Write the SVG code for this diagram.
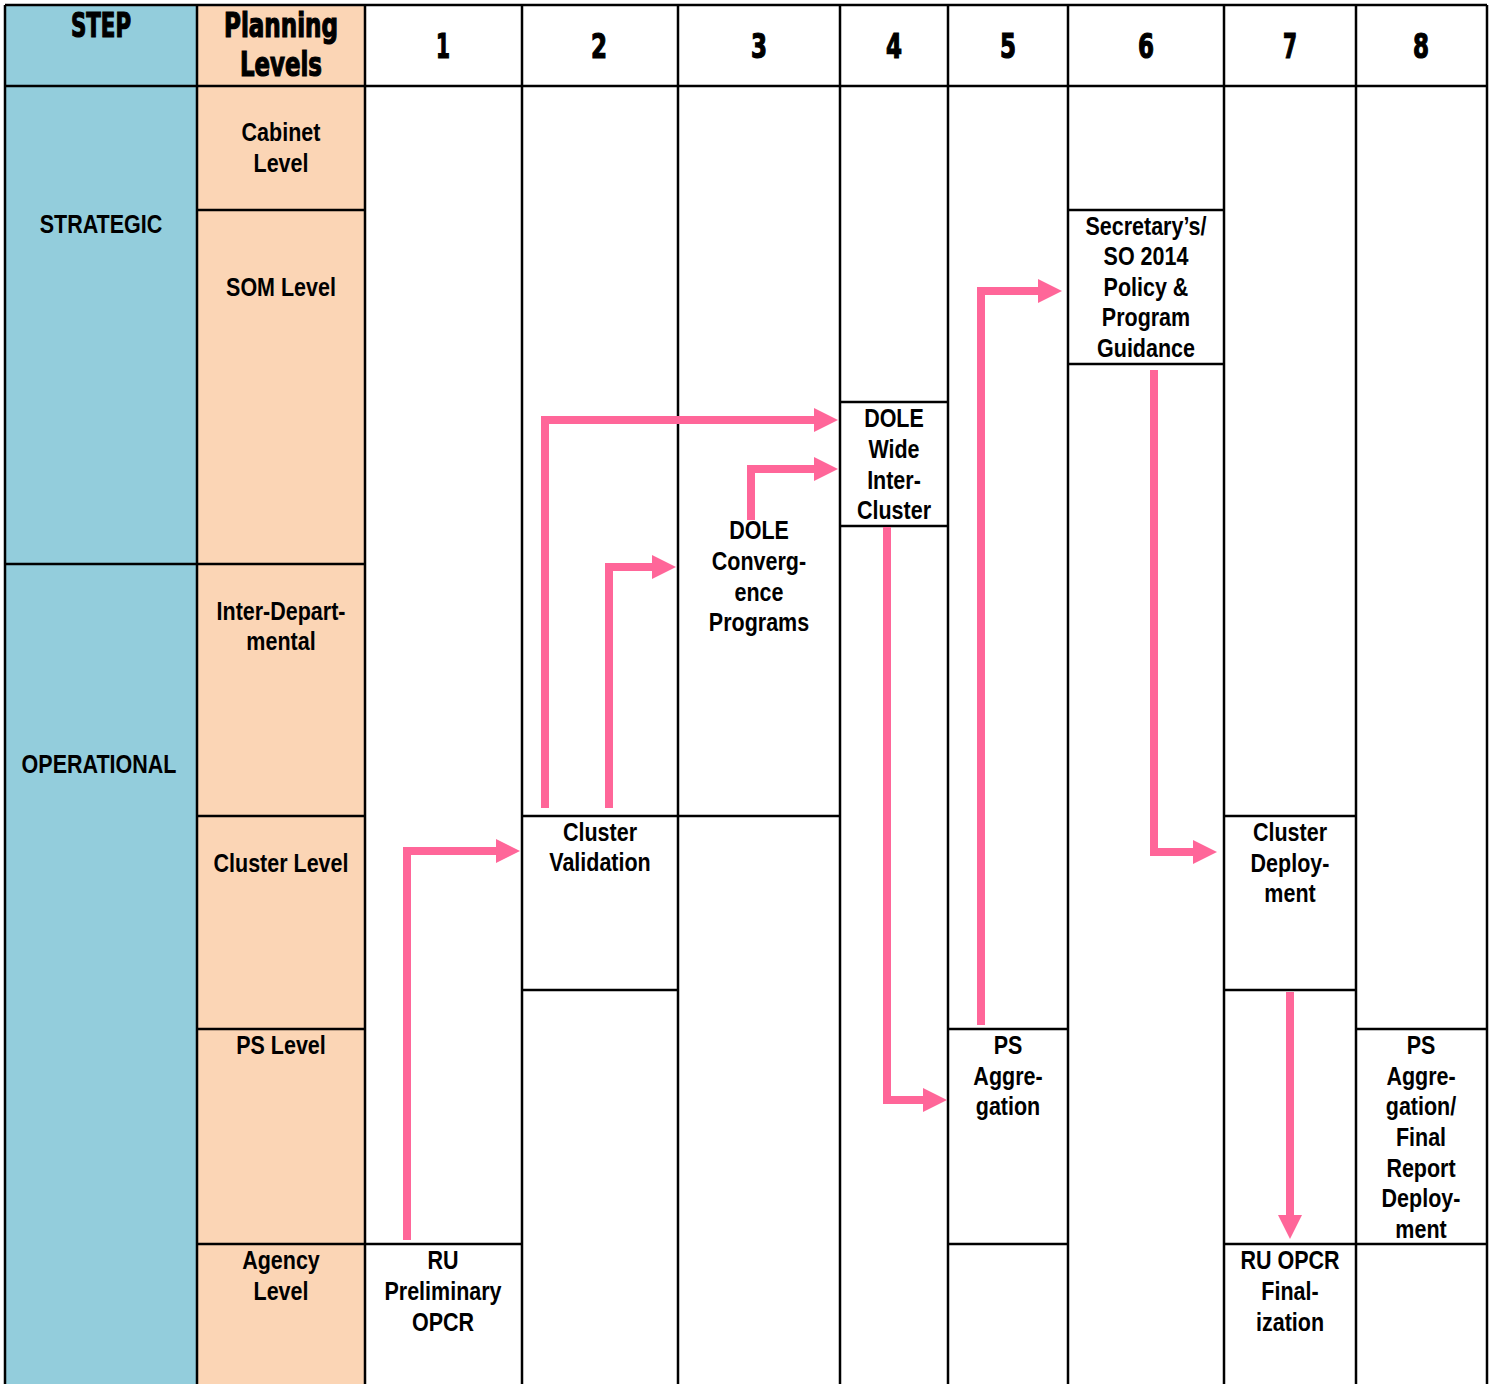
<svg xmlns="http://www.w3.org/2000/svg" width="1493" height="1384" viewBox="0 0 1493 1384">
<style>
.g{stroke:#000;stroke-width:2.5;fill:none}
.h{font-family:"DejaVu Sans Condensed","Liberation Sans",sans-serif;font-weight:bold;font-size:34px;text-anchor:middle;fill:#000;stroke:#000;stroke-width:1.2}
.t{font-family:"Liberation Sans",Arial,sans-serif;font-weight:bold;font-size:25px;text-anchor:middle;fill:#000}
.a{stroke:#FF6699;stroke-width:8;fill:none;marker-end:url(#ah)}
</style>
<defs>
<marker id="ah" markerUnits="userSpaceOnUse" viewBox="0 0 24 24" markerWidth="24" markerHeight="24" refX="1" refY="12" orient="auto">
<path d="M0,0 L24,12 L0,24 z" fill="#FF6699"/>
</marker>
</defs>
<rect x="0" y="0" width="1493" height="1384" fill="#fff"/>
<g id="backgrounds">
<rect x="5" y="5" width="192" height="1379" fill="#93CDDC"/>
<rect x="197" y="5" width="168" height="1379" fill="#FBD5B5"/>
</g>
<g id="grid">
<path class="g" d="M5,5 H1487 M5,86 H1487"/>
<path class="g" d="M5,5 V1384 M197,5 V1384 M365,5 V1384 M522,5 V1384 M678,5 V1384 M840,5 V1384 M948,5 V1384 M1068,5 V1384 M1224,5 V1384 M1356,5 V1384 M1487,5 V1384"/>
<path class="g" d="M5,564 H197"/>
<path class="g" d="M197,210 H365 M197,564 H365 M197,816 H365 M197,1029 H365 M197,1244 H365"/>
<path class="g" d="M365,1244 H522"/>
<path class="g" d="M522,816 H678 M522,990 H678"/>
<path class="g" d="M678,816 H840"/>
<path class="g" d="M840,402 H948 M840,526 H948"/>
<path class="g" d="M948,1029 H1068 M948,1244 H1068"/>
<path class="g" d="M1068,210 H1224 M1068,364 H1224"/>
<path class="g" d="M1224,816 H1356 M1224,990 H1356 M1224,1244 H1356"/>
<path class="g" d="M1356,1029 H1487 M1356,1244 H1487"/>
</g>
<g id="header">
<text class="h" x="101" y="37" textLength="60" lengthAdjust="spacingAndGlyphs">STEP</text>
<text class="h" x="281" y="37" textLength="114" lengthAdjust="spacingAndGlyphs">Planning</text>
<text class="h" x="281" y="76" textLength="82" lengthAdjust="spacingAndGlyphs">Levels</text>
<text class="h" x="443" y="58" textLength="14" lengthAdjust="spacingAndGlyphs">1</text>
<text class="h" x="599" y="58" textLength="16" lengthAdjust="spacingAndGlyphs">2</text>
<text class="h" x="759" y="58" textLength="16" lengthAdjust="spacingAndGlyphs">3</text>
<text class="h" x="894" y="58" textLength="16" lengthAdjust="spacingAndGlyphs">4</text>
<text class="h" x="1008" y="58" textLength="16" lengthAdjust="spacingAndGlyphs">5</text>
<text class="h" x="1146" y="58" textLength="16" lengthAdjust="spacingAndGlyphs">6</text>
<text class="h" x="1290" y="58" textLength="14" lengthAdjust="spacingAndGlyphs">7</text>
<text class="h" x="1421" y="58" textLength="16" lengthAdjust="spacingAndGlyphs">8</text>
</g>
<g transform="scale(0.86 1)">
<g id="steps">
<text class="t" x="117.44" y="233">STRATEGIC</text>
<text class="t" x="115.12" y="773">OPERATIONAL</text>
</g>
<g id="levels">
<text class="t" x="326.74" y="141">Cabinet</text>
<text class="t" x="326.74" y="172">Level</text>
<text class="t" x="326.74" y="296">SOM Level</text>
<text class="t" x="326.74" y="620">Inter-Depart-</text>
<text class="t" x="326.74" y="650">mental</text>
<text class="t" x="326.74" y="872">Cluster Level</text>
<text class="t" x="326.74" y="1054">PS Level</text>
<text class="t" x="326.74" y="1269">Agency</text>
<text class="t" x="326.74" y="1300">Level</text>
</g>
<g id="n1">
<text class="t" x="515.12" y="1269">RU</text>
<text class="t" x="515.12" y="1300">Preliminary</text>
<text class="t" x="515.12" y="1331">OPCR</text>
</g>
<g id="n2">
<text class="t" x="697.67" y="841">Cluster</text>
<text class="t" x="697.67" y="871">Validation</text>
</g>
<g id="n3">
<text class="t" x="882.56" y="539">DOLE</text>
<text class="t" x="882.56" y="570">Converg-</text>
<text class="t" x="882.56" y="601">ence</text>
<text class="t" x="882.56" y="631">Programs</text>
</g>
<g id="n4">
<text class="t" x="1039.53" y="427">DOLE</text>
<text class="t" x="1039.53" y="458">Wide</text>
<text class="t" x="1039.53" y="489">Inter-</text>
<text class="t" x="1039.53" y="519">Cluster</text>
</g>
<g id="n5">
<text class="t" x="1172.09" y="1054">PS</text>
<text class="t" x="1172.09" y="1085">Aggre-</text>
<text class="t" x="1172.09" y="1115">gation</text>
</g>
<g id="n6">
<text class="t" x="1332.56" y="235">Secretary’s/</text>
<text class="t" x="1332.56" y="265">SO 2014</text>
<text class="t" x="1332.56" y="296">Policy &amp;</text>
<text class="t" x="1332.56" y="326">Program</text>
<text class="t" x="1332.56" y="357">Guidance</text>
</g>
<g id="n7a">
<text class="t" x="1500" y="841">Cluster</text>
<text class="t" x="1500" y="872">Deploy-</text>
<text class="t" x="1500" y="902">ment</text>
</g>
<g id="n7b">
<text class="t" x="1500" y="1269">RU OPCR</text>
<text class="t" x="1500" y="1300">Final-</text>
<text class="t" x="1500" y="1331">ization</text>
</g>
<g id="n8">
<text class="t" x="1652.33" y="1054">PS</text>
<text class="t" x="1652.33" y="1085">Aggre-</text>
<text class="t" x="1652.33" y="1115">gation/</text>
<text class="t" x="1652.33" y="1146">Final</text>
<text class="t" x="1652.33" y="1177">Report</text>
<text class="t" x="1652.33" y="1207">Deploy-</text>
<text class="t" x="1652.33" y="1238">ment</text>
</g>
</g>
<g id="connectors">
<path class="a" d="M407,1240 V851 H497"/>
<path class="a" d="M545,808 V420 H815"/>
<path class="a" d="M609,808 V567 H653"/>
<path class="a" d="M751,520 V469 H815"/>
<path class="a" d="M887,527 V1100 H924"/>
<path class="a" d="M981,1025 V291 H1039"/>
<path class="a" d="M1154,370 V852 H1194"/>
<path class="a" d="M1290,992 V1216"/>
</g>
</svg>
